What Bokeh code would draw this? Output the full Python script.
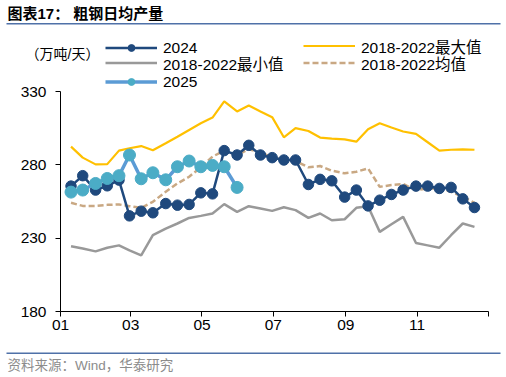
import pandas as pd
from bokeh.plotting import figure
from bokeh.models import Range1d, FixedTicker, Legend, LegendItem, Label
from bokeh.embed import file_html
from bokeh.resources import INLINE

# ---- data (ten-day periods, plotted on 2024 calendar positions) ----
periods = []
for m in range(1, 13):
    for d in (10, 20):
        periods.append(pd.Timestamp(2024, m, d))
    periods.append(pd.Timestamp(2024, m, 1) + pd.offsets.MonthEnd(0))
periods = sorted(periods)[:35]
year_start = pd.Timestamp(2024, 1, 1)
xpos = [(t - year_start).days for t in periods]

v2024 = [265.5, 272.6, 262.8, 265.7, 269.6, 245.2, 248.4, 247.3, 253.6, 252.5,
         253.0, 260.9, 260.2, 289.7, 286.7, 293.3, 286.7, 284.9, 283.3, 283.3,
         266.6, 270.1, 269.1, 258.0, 262.8, 252.0, 255.9, 259.8, 262.8, 265.5,
         265.5, 263.9, 264.6, 256.8, 250.9]
v2025 = [261.4, 262.8, 267.3, 270.7, 272.6, 286.7, 270.5, 274.6, 269.8, 278.7,
         282.6, 278.7, 279.6, 278.7, 264.6]
vmax = [292.4, 284.9, 280.3, 280.5, 289.7, 291.3, 292.8, 289.9, 294.7, 299.2,
        303.8, 308.3, 312.2, 323.2, 316.4, 320.4, 316.4, 312.5, 298.8, 305.0,
        303.1, 298.6, 297.9, 297.4, 295.8, 304.3, 308.4, 305.4, 302.7, 301.1,
        295.4, 289.7, 290.3, 290.6, 290.3]
vmin = [224.5, 222.9, 221.0, 223.5, 225.1, 221.7, 218.3, 232.0, 236.5, 240.0,
        243.8, 245.2, 246.8, 253.2, 247.9, 251.8, 250.2, 248.6, 251.1, 249.1,
        243.8, 246.8, 242.2, 242.9, 250.7, 251.8, 234.3, 239.5, 244.5, 226.7,
        225.1, 223.5, 232.0, 240.0, 237.7]
vmean = [254.1, 252.0, 252.0, 252.7, 253.0, 251.8, 250.7, 254.8, 261.6, 267.3,
         271.9, 278.3, 285.6, 289.7, 286.7, 290.6, 288.5, 285.1, 283.3, 282.6,
         278.3, 279.2, 276.0, 274.2, 275.3, 277.6, 265.0, 266.2, 266.9, 262.8,
         263.9, 263.9, 261.6, 258.2, 254.1]

tick_dates = ["2024-01-01", "2024-03-01", "2024-05-01", "2024-07-01",
              "2024-09-01", "2024-11-01", "2025-01-01"]
tick_labels = ["01", "03", "05", "07", "09", "11", ""]
y_ticks = [180, 230, 280, 330]

name_2024 = "2024"
name_2025 = "2025"
name_max = "2018-2022最大值"
name_min = "2018-2022最小值"
name_mean = "2018-2022均值"
title_text = "图表17：  粗钢日均产量"
unit_text = "（万吨/天）"
source_text = "资料来源：Wind，华泰研究"

FONT = "'Liberation Sans', 'Noto Sans CJK SC', sans-serif"
C2024 = "#1f497d"
C2025_LINE = "#5b9bd5"
C2025_MARK = "#4bacc6"
CMAX = "#ffc000"
CMIN = "#999999"
CMEAN = "#c9a883"
RULE = "#4f71a8"
FS = "15.5px"

W, H = 506, 377
# plot-area geometry in page pixels: axis x from 60 to 488, y 330 at 91, 180 at 311
AX_L, AX_R, AX_T, AX_B = 60, 488, 91, 311
Y_LO, Y_HI = y_ticks[0], y_ticks[-1]

tick_pos = [(pd.Timestamp(d) - year_start).days for d in tick_dates]
X_HI = tick_pos[-1]
sx = X_HI / (AX_R - AX_L)          # data per pixel (x)
sy = (Y_HI - Y_LO) / (AX_B - AX_T)  # data per pixel (y)


def dx(px):
    return (px - AX_L) * sx


def dy(py):
    return Y_HI - (py - AX_T) * sy


p = figure(width=W, height=H, output_backend="svg", toolbar_location=None,
           x_range=Range1d(dx(0), dx(W)), y_range=Range1d(dy(H), dy(0)),
           min_border=0, min_border_left=0, min_border_right=0,
           min_border_top=0, min_border_bottom=0)
p.outline_line_color = None
p.grid.visible = False
p.background_fill_color = "white"

r_min = p.line(xpos, vmin, line_color=CMIN, line_width=2.5)
r_max = p.line(xpos, vmax, line_color=CMAX, line_width=2.2)
r_mean = p.line(xpos, vmean, line_color=CMEAN, line_width=2.5, line_dash="6 3")
r24l = p.line(xpos, v2024, line_color=C2024, line_width=2.5)
r24c = p.scatter(xpos, v2024, size=10.5, fill_color=C2024, line_color=C2024)
x25 = xpos[:len(v2025)]
r25l = p.line(x25, v2025, line_color=C2025_LINE, line_width=3.5)
r25c = p.scatter(x25, v2025, size=12, fill_color=C2025_MARK, line_color=C2025_MARK)

# axes pinned to the data origin so they take no border space
p.xaxis.fixed_location = Y_LO
p.yaxis.fixed_location = 0
p.xaxis.bounds = (0, X_HI)
p.yaxis.bounds = (Y_LO, Y_HI)
p.xaxis.ticker = FixedTicker(ticks=tick_pos)
p.xaxis.major_label_overrides = {tp: lab for tp, lab in zip(tick_pos, tick_labels)}
p.yaxis.ticker = FixedTicker(ticks=y_ticks)
for ax in (p.xaxis, p.yaxis):
    ax.axis_line_color = "black"
    ax.axis_line_width = 1
    ax.major_tick_line_color = "black"
    ax.major_tick_in = 0
    ax.major_tick_out = 5
    ax.minor_tick_line_color = None
    ax.major_label_text_font = FONT
    ax.major_label_text_font_size = FS
    ax.major_label_text_color = "black"
p.xaxis.major_label_standoff = 3
p.yaxis.major_label_standoff = 9

# rules under the title and above the source
p.segment(x0=[dx(6), dx(6)], y0=[dy(23.3), dy(352.7)], x1=[dx(500), dx(500)],
          y1=[dy(23.3), dy(352.7)], line_color=RULE, line_width=1.5)

p.add_layout(Label(x=dx(7), y=dy(12.5), text=title_text, text_font=FONT,
                   text_font_size="15px", text_font_style="bold",
                   text_baseline="middle", text_color="black"))
p.add_layout(Label(x=dx(25), y=dy(53), text=unit_text, text_font=FONT,
                   text_font_size="14px", text_baseline="middle", text_color="black"))
p.add_layout(Label(x=dx(7), y=dy(365), text=source_text, text_font=FONT,
                   text_font_size="13.5px", text_baseline="middle", text_color="#8c8c8c"))


def make_legend(label, renderers, left_px, center_px):
    lg = Legend(items=[LegendItem(label=label, renderers=renderers)],
                location=(left_px, H - (center_px + 9.5)), orientation="vertical",
                glyph_width=52, glyph_height=17, label_height=17,
                label_standoff=6, spacing=0, padding=0, margin=0,
                border_line_color=None, background_fill_alpha=0,
                label_text_font=FONT, label_text_font_size=FS,
                label_text_color="black")
    p.add_layout(lg, "center")
    return lg


make_legend(name_2024, [r24l, r24c], 105, 47)
make_legend(name_min, [r_min], 105, 64)
make_legend(name_2025, [r25l, r25c], 105, 81)
make_legend(name_max, [r_max], 303, 47)
make_legend(name_mean, [r_mean], 303, 64)

open("out.html", "w").write(file_html(p, INLINE))
